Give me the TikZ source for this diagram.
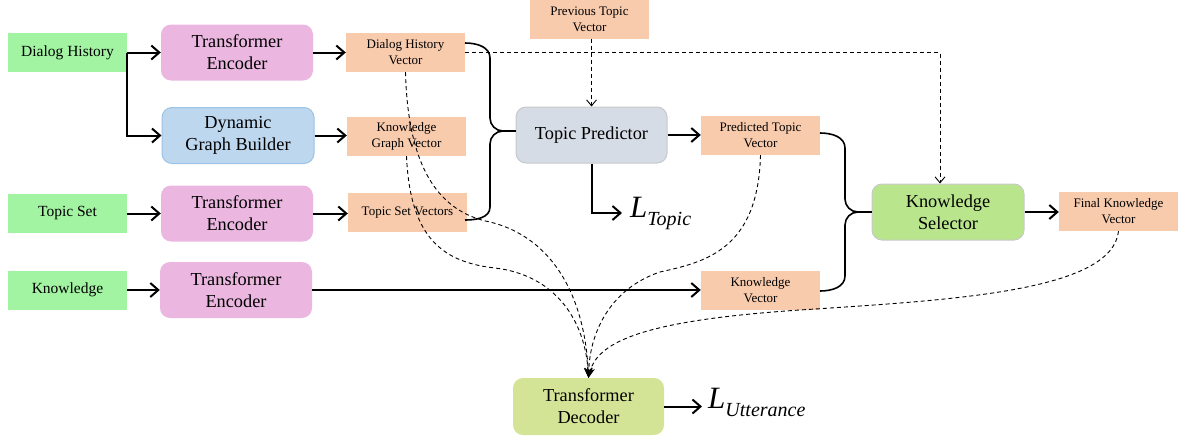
\documentclass[tikz,border=0pt]{standalone}
\usepackage{fontspec}
\setmainfont{Liberation Serif}
\newfontfamily\tnr{Liberation Serif}
\usetikzlibrary{arrows.meta,calc}
\definecolor{ingreen}{RGB}{162,244,162}
\definecolor{encpink}{RGB}{235,183,224}
\definecolor{dgbblue}{RGB}{189,215,238}
\definecolor{dgbborder}{RGB}{157,195,230}
\definecolor{vecorange}{RGB}{248,203,173}
\definecolor{tpgray}{RGB}{214,220,229}
\definecolor{ksgreen}{RGB}{185,230,140}
\definecolor{decgreen}{RGB}{212,228,150}
\definecolor{bordergray}{RGB}{200,200,200}
\tikzset{
  inbox/.style={rectangle, fill=ingreen, minimum width=119pt, minimum height=39pt, inner sep=0pt, font=\tnr\fontsize{15.5}{18}\selectfont},
  encbox/.style={rectangle, rounded corners=10pt, fill=encpink, minimum width=152pt, minimum height=56pt, inner sep=0pt, align=center, font=\tnr\fontsize{18.3}{22}\selectfont},
  vecbox/.style={rectangle, fill=vecorange, minimum width=119pt, minimum height=39pt, inner sep=0pt, align=center, font=\tnr\fontsize{13}{16}\selectfont},
  solidarrow/.style={line width=2pt, -{Straight Barb[length=8pt,width=14pt]}},
  dasharrow/.style={line width=0.9pt, dash pattern=on 4pt off 3pt, -{Straight Barb[length=6pt,width=10pt]}},
  dashcurve/.style={line width=0.9pt, dash pattern=on 4pt off 3pt, -{Stealth[length=10pt,width=8pt]}},
  bracepath/.style={line width=1.6pt},
  lossfont/.style={font=\tnr\fontsize{31}{31}\selectfont\itshape}
}
\begin{document}
\begin{tikzpicture}[x=1pt,y=-1pt]
\useasboundingbox (0,0) rectangle (1180,437);
% inputs
\node[inbox] (dh) at (67.5,52.5) {Dialog History};
\node[inbox] (ts) at (67.5,213.5) {Topic Set};
\node[inbox] (kn) at (67.5,290) {Knowledge};
% encoders
\node[encbox] (te1) at (237,52.5) {Transformer\\Encoder};
\node[encbox, fill=dgbblue, draw=dgbborder, line width=1pt] (dgb) at (238,135.5) {Dynamic\\Graph Builder};
\node[encbox] (te2) at (237,213.5) {Transformer\\Encoder};
\node[encbox] (te3) at (236,290) {Transformer\\Encoder};
% vectors
\node[vecbox] (dhv) at (405.5,52.5) {Dialog History\\Vector};
\node[vecbox] (kgv) at (406.5,136.5) {Knowledge\\Graph Vector};
\node[vecbox] (tsv) at (407.5,212.5) {Topic Set Vectors};
\node[vecbox] (prev) at (589.5,19) {Previous Topic\\Vector};
\node[vecbox] (pred) at (760.5,135.5) {Predicted Topic\\Vector};
\node[vecbox] (kv) at (760.5,290) {Knowledge\\Vector};
\node[vecbox] (fkv) at (1118.5,211.5) {Final Knowledge\\Vector};
% modules
\node[encbox, fill=tpgray, draw=bordergray, line width=1pt, minimum width=151pt] (tp) at (591.5,135) {Topic Predictor};
\node[encbox, fill=ksgreen, draw=bordergray, line width=1pt] (ks) at (948,212) {Knowledge\\Selector};
\node[encbox, fill=decgreen, minimum width=151pt, minimum height=57pt] (dec) at (588.5,406.5) {Transformer\\Decoder};
% losses
\node[lossfont, anchor=west, inner sep=0pt] (ltopic) at (630,213) {L\raisebox{-8pt}{\fontsize{20}{20}\selectfont Topic}};
\node[lossfont, anchor=west, inner sep=0pt] (lutt) at (708,402) {L\raisebox{-8pt}{\fontsize{20}{20}\selectfont Utterance}};
% solid arrows
\draw[solidarrow] (dh.east) -- (te1.west);
\draw[solidarrow] (dh.east) |- (dgb.west);
\draw[solidarrow] (ts.east) -- (te2.west);
\draw[solidarrow] (kn.east) -- (te3.west);
\draw[solidarrow] (te1.east) -- (dhv.west);
\draw[solidarrow] (dgb.east) -- (dgb.east -| kgv.west);
\draw[solidarrow] (te2.east) -- (te2.east -| tsv.west);
\draw[solidarrow] (te3.east) -- (kv.west);
\draw[solidarrow] (tp.east) -- (tp.east -| pred.west);
\draw[solidarrow] (ks.east) -- (ks.east -| fkv.west);
\draw[solidarrow] (tp.south) |- ([xshift=-8pt]ltopic.west);
\draw[solidarrow] (dec.east) -- ([xshift=-6pt]dec.east -| lutt.west);
% braces
\coordinate (b1tip) at (503,131);
\draw[bracepath] (465,43) to[out=0,in=90] (490,58) -- (490,118) to[out=-90,in=180] (b1tip);
\draw[bracepath] (465,220) to[out=0,in=-90] (490,207) -- (490,144) to[out=90,in=180] (b1tip);
\draw[bracepath] (b1tip) -- (b1tip -| tp.west);
\coordinate (b2tip) at (858,212);
\draw[bracepath] (820,133) to[out=0,in=90] (845,148) -- (845,199) to[out=-90,in=180] (b2tip);
\draw[bracepath] (820,291) to[out=0,in=-90] (845,276) -- (845,225) to[out=90,in=180] (b2tip);
\draw[bracepath] (b2tip) -- (ks.west);
% dashed arrows
\draw[dasharrow] (prev.south -| tp.north) -- (tp.north);
\draw[dasharrow] (dhv.east) -| ([xshift=-8pt]ks.north);
% dashed curves to decoder
\draw[dashcurve] (dhv.south) .. controls (408,170) and (440,212) .. (490,222) .. controls (555,238) and (585,300) .. (dec.north);
\draw[dashcurve] (kgv.south) .. controls (410,235) and (440,262) .. (495,268) .. controls (555,275) and (585,320) .. (dec.north);
\draw[dashcurve] (pred.south) .. controls (758,250) and (705,262) .. (660,272) .. controls (612,288) and (590,330) .. (dec.north);
\draw[dashcurve] (fkv.south) .. controls (1112,292) and (950,300) .. (800,310) .. controls (650,320) and (598,340) .. (dec.north);
\end{tikzpicture}
\end{document}
